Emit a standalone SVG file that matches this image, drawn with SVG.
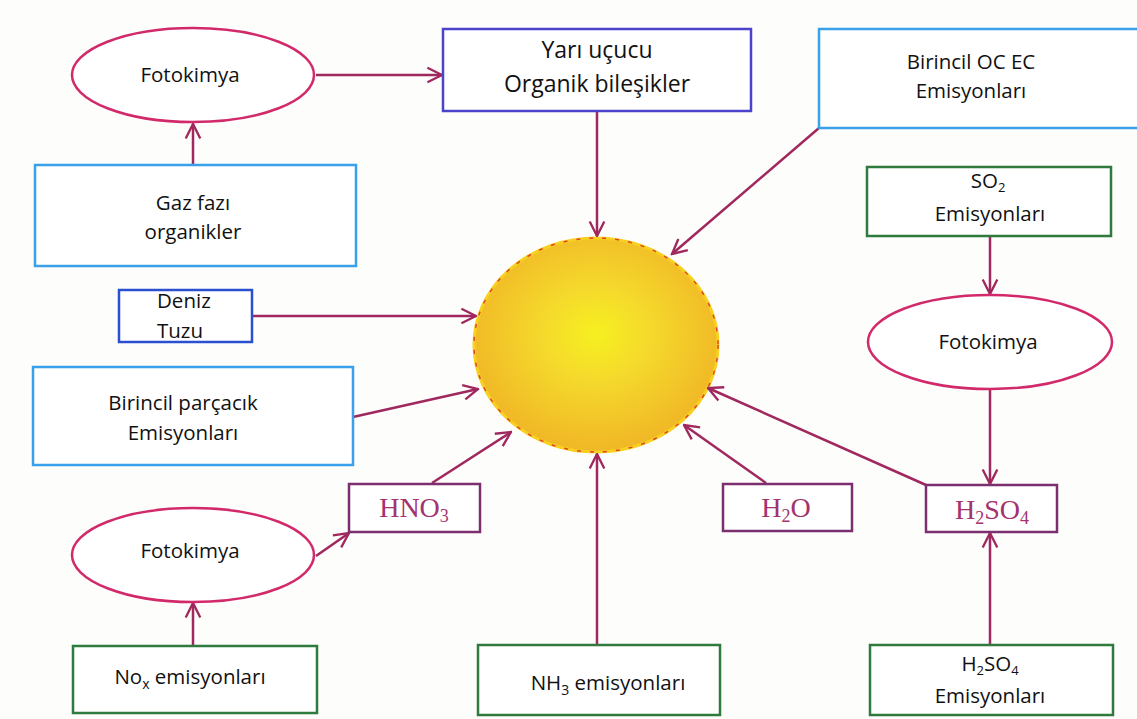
<svg xmlns="http://www.w3.org/2000/svg" width="1137" height="719" viewBox="0 0 1137 719">
<style>
.t{font-family:"Open Sans","Liberation Sans",sans-serif;font-size:20.5px;fill:#111;text-anchor:middle}
.big{font-size:23px}
.chem{font-family:"Liberation Serif","DejaVu Serif",serif;font-size:28px;fill:#a3326e;text-anchor:middle}
.ell{fill:#fff;stroke:#d2296a;stroke-width:2.5}
.lb{fill:#fff;stroke:#3ba0ea;stroke-width:2.5}
.gr{fill:#fff;stroke:#2f7a3d;stroke-width:2.5}
.pu{fill:#fff;stroke:#7b2f6e;stroke-width:2.5}
.conn line{stroke:#a0285e;stroke-width:2.5;marker-end:url(#ah)}
</style>
<defs>
<marker id="ah" viewBox="0 0 12 12" refX="11" refY="6" markerWidth="7" markerHeight="7" markerUnits="strokeWidth" orient="auto">
<path d="M1,1 L11,6 L1,11" fill="none" stroke="#a0285e" stroke-width="1.6"/>
</marker>
<radialGradient id="sun" cx="0.5" cy="0.45" r="0.55">
<stop offset="0" stop-color="#f6f020"/>
<stop offset="0.4" stop-color="#f5d92c"/>
<stop offset="1" stop-color="#f0b626"/>
</radialGradient>
</defs>
<rect width="1137" height="719" fill="#fdfdfb"/>

<g id="particle">
<ellipse cx="596" cy="345" rx="122" ry="107" fill="url(#sun)" stroke="#f7d020" stroke-width="3"/>
<ellipse cx="596" cy="345" rx="122" ry="107" fill="none" stroke="#e0462a" stroke-width="1.5" stroke-dasharray="4 9"/>
</g>

<g class="conn">
<line x1="316" y1="75" x2="442" y2="75"/>
<line x1="193" y1="165" x2="193" y2="124"/>
<line x1="597" y1="111" x2="597" y2="236"/>
<line x1="819" y1="128" x2="672" y2="254"/>
<line x1="252" y1="316" x2="476" y2="316"/>
<line x1="353" y1="417" x2="478" y2="389"/>
<line x1="990" y1="236" x2="990" y2="294"/>
<line x1="990" y1="389" x2="990" y2="484"/>
<line x1="926" y1="485" x2="708" y2="388"/>
<line x1="766" y1="483" x2="684" y2="425"/>
<line x1="432" y1="483" x2="511" y2="432"/>
<line x1="597" y1="645" x2="597" y2="454"/>
<line x1="316" y1="556" x2="349" y2="533"/>
<line x1="193" y1="646" x2="193" y2="603"/>
<line x1="990" y1="645" x2="990" y2="533"/>
</g>

<g id="fotokimya1"><ellipse class="ell" cx="193" cy="75" rx="121" ry="47"/><text class="t" x="190" y="82">Fotokimya</text></g>
<g id="yari"><rect x="443" y="29" width="308" height="82" fill="#fff" stroke="#4b43cc" stroke-width="2.5"/><text class="t big" x="597" y="58">Yarı uçucu</text><text class="t big" x="597" y="92">Organik bileşikler</text></g>
<g id="birincilOC"><rect class="lb" x="819" y="29" width="320" height="99"/><text class="t" x="971" y="69">Birincil OC EC</text><text class="t" x="971" y="98">Emisyonları</text></g>
<g id="gaz"><rect class="lb" x="35" y="165" width="321" height="101"/><text class="t" x="193" y="210">Gaz fazı</text><text class="t" x="193" y="239">organikler</text></g>
<g id="deniz"><rect x="119" y="290" width="133" height="52" fill="#fff" stroke="#2a4fcf" stroke-width="2.5"/><text class="t" x="157" y="308" style="text-anchor:start">Deniz</text><text class="t" x="157" y="338" style="text-anchor:start">Tuzu</text></g>
<g id="birincilP"><rect class="lb" x="33" y="367" width="320" height="98"/><text class="t" x="183" y="410">Birincil parçacık</text><text class="t" x="183" y="440">Emisyonları</text></g>
<g id="so2"><rect class="gr" x="867" y="167" width="244" height="69"/><text class="t" x="988" y="188">SO<tspan font-size="13" dy="4">2</tspan></text><text class="t" x="990" y="221">Emisyonları</text></g>
<g id="fotokimya2"><ellipse class="ell" cx="990" cy="342" rx="122" ry="47"/><text class="t" x="988" y="349">Fotokimya</text></g>
<g id="h2so4"><rect class="pu" x="926" y="485" width="131" height="47"/><text class="chem" x="992" y="519">H<tspan font-size="18" dy="5">2</tspan><tspan dy="-5">SO</tspan><tspan font-size="18" dy="5">4</tspan></text></g>
<g id="h2o"><rect class="pu" x="723" y="484" width="129" height="47"/><text class="chem" x="786" y="517">H<tspan font-size="18" dy="5">2</tspan><tspan dy="-5">O</tspan></text></g>
<g id="hno3"><rect class="pu" x="349" y="484" width="131" height="48"/><text class="chem" x="414" y="517">HNO<tspan font-size="18" dy="5">3</tspan></text></g>
<g id="fotokimya3"><ellipse class="ell" cx="193" cy="555" rx="121" ry="47"/><text class="t" x="190" y="558">Fotokimya</text></g>
<g id="nox"><rect class="gr" x="73" y="646" width="244" height="67"/><text class="t" x="190" y="684">No<tspan font-size="14" dy="5">x</tspan><tspan dy="-5"> emisyonları</tspan></text></g>
<g id="nh3"><rect class="gr" x="478" y="645" width="242" height="70"/><text class="t" x="608" y="690">NH<tspan font-size="14" dy="5">3</tspan><tspan dy="-5"> emisyonları</tspan></text></g>
<g id="h2so4em"><rect class="gr" x="870" y="645" width="243" height="70"/><text class="t" x="990" y="671">H<tspan font-size="13" dy="4">2</tspan><tspan dy="-4">SO</tspan><tspan font-size="13" dy="4">4</tspan></text><text class="t" x="990" y="703">Emisyonları</text></g>
</svg>
